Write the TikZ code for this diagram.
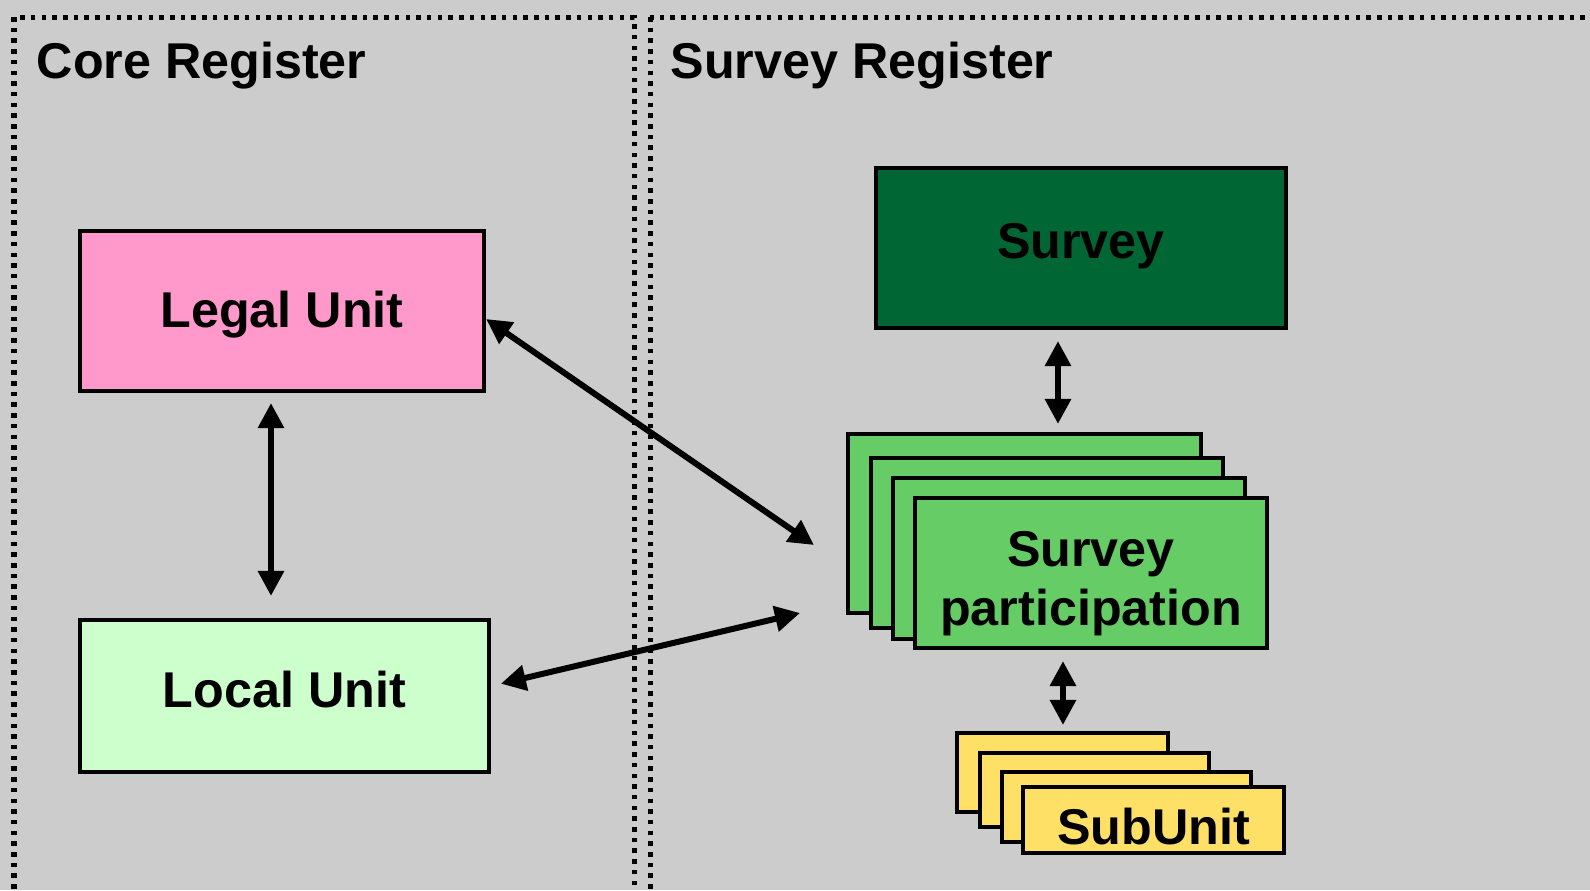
\documentclass[tikz,border=0pt]{standalone}
\usepackage{fontspec}
\setmainfont{Liberation Sans}
\usetikzlibrary{arrows.meta,calc}
\definecolor{bggray}{HTML}{CCCCCC}
\definecolor{legalpink}{HTML}{FF99CC}
\definecolor{localgreen}{HTML}{CCFFCC}
\definecolor{surveygreen}{HTML}{006633}
\definecolor{partgreen}{HTML}{66CC66}
\definecolor{subyellow}{HTML}{FFE066}
\def\canvas{(0,0) rectangle (1590,890)}
\def\corerect{(14,17) rectangle (634,960)}
\def\survrect{(650,17) rectangle (1700,960)}
\newcommand\drop[2]{\raisebox{#1}[0pt][0pt]{#2}}

\begin{document}
\begin{tikzpicture}[x=0.01cm,y=-0.01cm,
  box/.style={draw,line width=0.04cm,inner sep=0pt,align=center,
    font=\fontsize{14.3}{16.8}\selectfont\bfseries},
  dbl/.style={arrows={Triangle[length=0.25cm,width=0.25cm]-Triangle[length=0.25cm,width=0.25cm]},line width=0.06cm},
  regborder/.style={line width=0.05cm,dash pattern=on 0.045cm off 0.062cm},
  reglabel/.style={anchor=base west,inner sep=0pt,font=\fontsize{14.3}{16.8}\selectfont\bfseries}]
\useasboundingbox \canvas;
\clip \canvas;
\fill[bggray] \canvas;
\draw[regborder] \corerect;
\draw[regborder] \survrect;
\node[reglabel] (corelbl) at (36,78) {Core Register};
\node[reglabel] (survlbl) at (670,78) {Survey Register};

% core register
\node[box,fill=legalpink,minimum width=4.04cm,minimum height=1.60cm] (legal) at (282,311) {\drop{-0.16cm}{Legal Unit}};
\node[box,fill=localgreen,minimum width=4.09cm,minimum height=1.52cm] (local) at (284.5,696) {\drop{-0.115cm}{Local Unit}};

% survey register
\node[box,fill=surveygreen,minimum width=4.10cm,minimum height=1.60cm] (survey) at (1081,248) {\drop{-0.10cm}{Survey}};
\node[box,fill=partgreen,minimum width=3.53cm,minimum height=1.79cm] (sp1) at (1024.5,523.5) {};
\node[box,fill=partgreen,minimum width=3.52cm,minimum height=1.70cm] (sp2) at (1047,543) {};
\node[box,fill=partgreen,minimum width=3.52cm,minimum height=1.61cm] (sp3) at (1069,558.5) {};
\node[box,fill=partgreen,minimum width=3.52cm,minimum height=1.50cm] (sp4) at (1091,573)
  {\drop{0.07cm}{\begin{tabular}[t]{@{}c@{}}Survey\\participation\end{tabular}}};
\node[box,fill=subyellow,minimum width=2.11cm,minimum height=0.79cm] (su1) at (1062.5,772.5) {};
\node[box,fill=subyellow,minimum width=2.29cm,minimum height=0.74cm] (su2) at (1094.5,790) {};
\node[box,fill=subyellow,minimum width=2.49cm,minimum height=0.70cm] (su3) at (1126.5,807) {};
\node[box,fill=subyellow,minimum width=2.61cm,minimum height=0.66cm] (su4) at (1153.5,820) {\drop{-0.24cm}{SubUnit}};

% connectors
\coordinate (spin1) at (814,545);
\coordinate (spin2) at (800,613);
\draw[dbl,shorten <=0.1cm,shorten >=0.22cm] ([xshift=-0.11cm]legal.south) -- ([xshift=-0.11cm]legal.south |- local.north);
\draw[dbl] ([yshift=-0.08cm]legal.east) -- (spin1);
\draw[dbl,shorten <=0.1cm] ([yshift=0.1cm]local.east) -- (spin2);
\draw[dbl,shorten <=0.11cm,shorten >=0.08cm] ([xshift=-0.23cm]survey.south) -- ([xshift=-0.23cm]survey.south |- sp1.north);
\draw[dbl,shorten <=0.11cm,shorten >=0.06cm] ([xshift=-0.28cm]sp4.south) -- ([xshift=-0.28cm]sp4.south |- su1.north);
\end{tikzpicture}
\end{document}
